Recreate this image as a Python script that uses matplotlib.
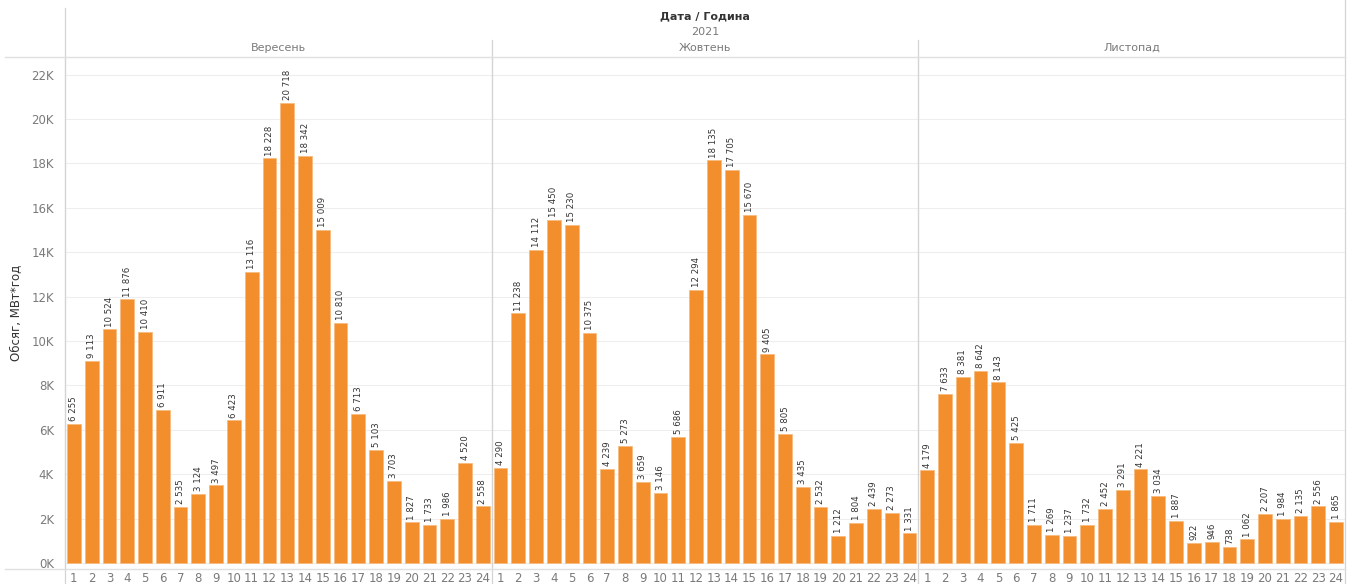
import matplotlib.pyplot as plt
from matplotlib.ticker import FuncFormatter

months = ['Вересень', 'Жовтень', 'Листопад']
hours = list(range(1, 25))

sep = [6255, 9113, 10524, 11876, 10410, 6911, 2535, 3124, 3497, 6423, 13116, 18228,
       20718, 18342, 15009, 10810, 6713, 5103, 3703, 1827, 1733, 1986, 4520, 2558]
oct_ = [4290, 11238, 14112, 15450, 15230, 10375, 4239, 5273, 3659, 3146, 5686, 12294,
        18135, 17705, 15670, 9405, 5805, 3435, 2532, 1212, 1804, 2439, 2273, 1331]
nov = [4179, 7633, 8381, 8642, 8143, 5425, 1711, 1269, 1237, 1732, 2452, 3291,
       4221, 3034, 1887, 922, 946, 738, 1062, 2207, 1984, 2135, 2556, 1865]
series = [sep, oct_, nov]

W, H = 1351, 584
fig = plt.figure(figsize=(W / 100, H / 100), dpi=100)

bar_color = '#F28E2B'
grid_color = '#EEEEEE'
line_color = '#D4D4D4'
text_gray = '#7A7A7A'

left, right = 65, 1345
top, bottom = 57, 569
pw = (right - left) / 3

def fx(px):
    return px / W

def fy(py):
    return 1 - py / H

for i, (m, vals) in enumerate(zip(months, series)):
    x0 = left + i * pw
    ax = fig.add_axes([fx(x0), fy(bottom), fx(pw), (bottom - top) / H])
    ax.bar(hours, vals, width=0.78, color=bar_color, edgecolor='#F7B97A', linewidth=0.5, zorder=3)
    for h, v in zip(hours, vals):
        ax.text(h, v + 120, f'{v:,}'.replace(',', ' '), rotation=90, ha='center', va='bottom',
                fontsize=6.2, color='#333333', zorder=4)
    ax.set_xlim(0.5, 24.5)
    ax.set_ylim(-270, 22790)
    ax.set_yticks(range(0, 22001, 2000))
    ax.grid(axis='y', color=grid_color, linewidth=0.8, zorder=0)
    ax.set_xticks(hours)
    ax.set_xticklabels([str(h) for h in hours], fontsize=8.5, color=text_gray)
    ax.tick_params(axis='x', length=0, pad=2)
    for s in ['top', 'right', 'bottom']:
        ax.spines[s].set_visible(False)
    ax.spines['left'].set_color(line_color)
    if i == 0:
        ax.yaxis.set_major_formatter(FuncFormatter(lambda v, p: f'{int(v / 1000)}K'))
        ax.tick_params(axis='y', length=0, labelsize=8.5, labelcolor=text_gray, pad=8)
        ax.set_ylabel('Обсяг, МВт*год', fontsize=8.5, color='#333333')
        ax.yaxis.set_label_coords((22 - left) / pw, 0.5)
    else:
        ax.tick_params(axis='y', length=0, labelleft=False)
    fig.text(fx(x0 + pw / 2), fy(48), m, ha='center', va='center', fontsize=8, color=text_gray)
    # panel divider lines
    y_start = 40 if i < 2 else 0
    fig.add_artist(plt.Line2D([fx(x0 + pw), fx(x0 + pw)], [fy(y_start), fy(bottom + 15)],
                              color=line_color, linewidth=0.9))

# header
fig.text(fx((left + right) / 2), fy(16), 'Дата / Година', ha='center', va='center',
         fontsize=8, fontweight='bold', color='#333333')
fig.text(fx((left + right) / 2), fy(32), '2021', ha='center', va='center',
         fontsize=8, color=text_gray)
fig.add_artist(plt.Line2D([fx(left), fx(left)], [fy(8), fy(bottom + 15)], color=line_color, linewidth=0.9))
fig.add_artist(plt.Line2D([fx(5), fx(right)], [fy(top), fy(top)], color='#E0E0E0', linewidth=1.0))
fig.add_artist(plt.Line2D([fx(5), fx(right)], [fy(bottom), fy(bottom)], color='#E0E0E0', linewidth=1.0))

fig.savefig('out.png', dpi=100, facecolor='white')
